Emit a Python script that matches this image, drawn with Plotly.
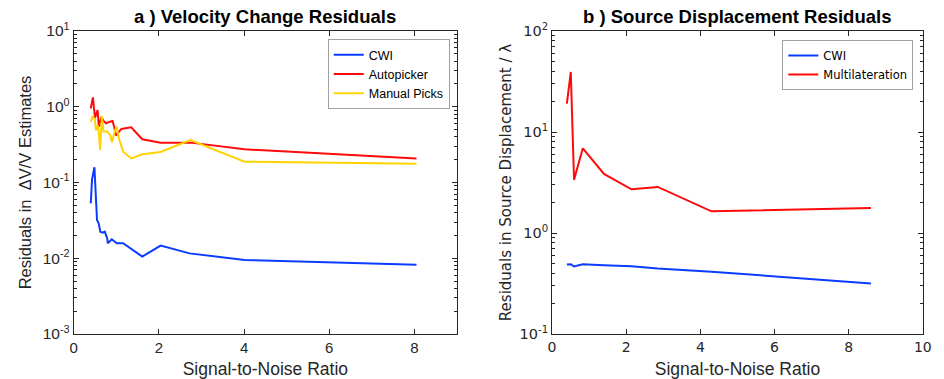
import math
import plotly.graph_objects as go
from plotly.subplots import make_subplots

# --- a) velocity change residuals ---
snr_cwi_a = [0.40, 0.43, 0.486, 0.516, 0.547, 0.586, 0.625, 0.68, 0.73, 0.787, 0.80, 0.894, 1.01, 1.16, 1.61, 2.04, 2.72, 4.01, 8.05]
res_cwi_a = [0.053, 0.110, 0.159, 0.059, 0.032, 0.029, 0.0224, 0.0217, 0.0224, 0.0183, 0.0158, 0.0178, 0.0158, 0.0158, 0.0105, 0.0147, 0.0116, 0.0095, 0.0082]

snr_auto = [0.40, 0.45, 0.50, 0.56, 0.59, 0.65, 0.70, 0.76, 0.85, 0.91, 0.95, 0.99, 1.03, 1.12, 1.35, 1.61, 2.04, 2.74, 4.01, 8.05]
res_auto = [0.95, 1.33, 0.71, 0.905, 0.545, 0.73, 0.65, 0.605, 0.635, 0.65, 0.545, 0.42, 0.445, 0.51, 0.535, 0.372, 0.336, 0.336, 0.274, 0.208]

snr_manual = [0.40, 0.45, 0.50, 0.52, 0.56, 0.59, 0.62, 0.66, 0.70, 0.78, 0.86, 0.90, 0.97, 1.01, 1.05, 1.16, 1.35, 1.61, 2.04, 2.74, 4.01, 8.05]
res_manual = [0.635, 0.755, 0.67, 0.49, 0.57, 0.45, 0.268, 0.755, 0.47, 0.47, 0.42, 0.34, 0.49, 0.545, 0.40, 0.255, 0.208, 0.236, 0.253, 0.364, 0.188, 0.177]

# --- b) source displacement residuals ---
snr_b = [0.40, 0.505, 0.593, 0.83, 1.40, 2.14, 2.85, 4.30, 8.60]
res_cwi_b = [0.488, 0.49, 0.466, 0.49, 0.48, 0.469, 0.445, 0.413, 0.317]
res_multi = [19.1, 39.3, 3.37, 6.9, 3.84, 2.71, 2.86, 1.64, 1.77]

xticks_a = [0, 2, 4, 6, 8]
xticks_b = [0, 2, 4, 6, 8, 10]
yticks_a = [1e-3, 1e-2, 1e-1, 1e0, 1e1]
yticks_b = [1e-1, 1e0, 1e1, 1e2]

BLUE = "#0a3cff"
RED = "#ff0a0a"
GOLD = "#ffd200"
AX = "#262626"


def sup_labels(vals):
    return ["10<sup>%d</sup>" % round(math.log10(v)) for v in vals]


def minor_vals(lo_exp, hi_exp):
    return [m * 10 ** e for e in range(lo_exp, hi_exp) for m in range(2, 10)]


fig = make_subplots(rows=1, cols=2)

fig.add_trace(go.Scatter(x=snr_cwi_a, y=res_cwi_a, mode="lines", name="CWI",
                         line=dict(color=BLUE, width=2), legend="legend"), 1, 1)
fig.add_trace(go.Scatter(x=snr_auto, y=res_auto, mode="lines", name="Autopicker",
                         line=dict(color=RED, width=2), legend="legend"), 1, 1)
fig.add_trace(go.Scatter(x=snr_manual, y=res_manual, mode="lines", name="Manual Picks",
                         line=dict(color=GOLD, width=2), legend="legend"), 1, 1)

fig.add_trace(go.Scatter(x=snr_b, y=res_cwi_b, mode="lines", name="CWI",
                         line=dict(color=BLUE, width=2), legend="legend2"), 1, 2)
fig.add_trace(go.Scatter(x=snr_b, y=res_multi, mode="lines", name="Multilateration",
                         line=dict(color=RED, width=2), legend="legend2"), 1, 2)

W, H = 944, 379
L_A, R_A = 70.7, 459.3
L_B, R_B = 555.7, 931.7

common = dict(showline=True, linecolor=AX, linewidth=1, mirror="ticks",
              ticks="inside", ticklen=5, tickcolor=AX, showgrid=False, zeroline=False)

fig.update_xaxes(domain=[L_A / W, R_A / W], range=[0, 9], tickvals=xticks_a,
                 title=dict(text="Signal-to-Noise Ratio", standoff=9,
                            font=dict(family="Liberation Sans", size=17.5, color=AX)),
                 tickfont=dict(family="Liberation Sans", size=15, color=AX), row=1, col=1, **common)
fig.update_xaxes(domain=[L_B / W, R_B / W], range=[0, 10], tickvals=xticks_b,
                 title=dict(text="Signal-to-Noise Ratio", standoff=9,
                            font=dict(family="Liberation Sans", size=17.5, color=AX)),
                 tickfont=dict(family="DejaVu Sans", size=14, color=AX), row=1, col=2, **common)

fig.update_yaxes(type="log", range=[-3, 1], tickvals=yticks_a, ticktext=sup_labels(yticks_a),
                 minor=dict(tickvals=minor_vals(-3, 1), ticks="inside", ticklen=3, tickcolor=AX),
                 title=dict(text="Residuals in  \u0394V/V Estimates", standoff=6,
                            font=dict(family="Liberation Sans", size=16.5, color=AX)),
                 tickfont=dict(family="Liberation Sans", size=15.5, color=AX), row=1, col=1, **common)
fig.update_yaxes(type="log", range=[-1, 2], tickvals=yticks_b, ticktext=sup_labels(yticks_b),
                 minor=dict(tickvals=minor_vals(-1, 2), ticks="inside", ticklen=3, tickcolor=AX),
                 title=dict(text="Residuals in Source Displacement / \u03bb", standoff=4,
                            font=dict(family="DejaVu Sans", size=15, color=AX)),
                 tickfont=dict(family="DejaVu Sans", size=14.5, color=AX), row=1, col=2, **common)

T, B = 31, 45
PH = H - T - B

legend_style = dict(bgcolor="white", bordercolor="#a0a0a0", borderwidth=1,
                    xanchor="right", yanchor="top", tracegroupgap=0,
                    itemwidth=30)

fig.update_layout(
    width=W, height=H,
    margin=dict(l=0, r=0, t=T, b=B),
    paper_bgcolor="white", plot_bgcolor="white",
    legend=dict(x=452 / W, y=(H - B - 39) / PH,
                font=dict(family="Liberation Sans", size=12.5, color="black"), **legend_style),
    legend2=dict(x=922 / W, y=(H - B - 40) / PH,
                 font=dict(family="DejaVu Sans", size=11.5, color="black"), **legend_style),
    annotations=[
        dict(text="<b>a ) Velocity Change Residuals</b>", x=(L_A + R_A) / 2 / W, y=1,
             xref="paper", yref="paper", xanchor="center", yanchor="bottom", yshift=2,
             showarrow=False, font=dict(family="Liberation Sans", size=18.5, color="black")),
        dict(text="<b>b ) Source Displacement Residuals</b>", x=(L_B + R_B) / 2 / W, y=1,
             xref="paper", yref="paper", xanchor="center", yanchor="bottom", yshift=2,
             showarrow=False, font=dict(family="Liberation Sans", size=18.5, color="black")),
    ],
)

fig.write_html("out.html")
